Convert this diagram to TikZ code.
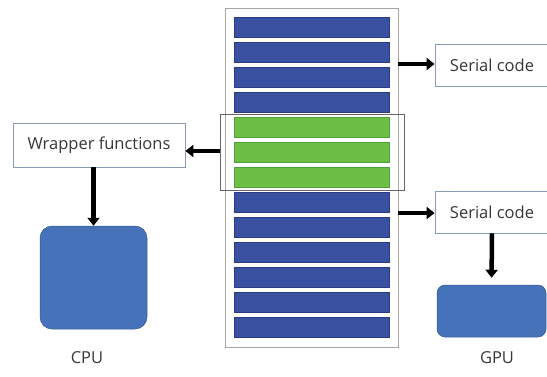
\documentclass[tikz,border=0pt]{standalone}
\usepackage{fontspec}
\setmainfont{Open Sans}
\usetikzlibrary{arrows.meta}
\definecolor{barblue}{RGB}{58,80,160}
\definecolor{barblueedge}{RGB}{45,60,130}
\definecolor{bargreen}{RGB}{108,190,69}
\definecolor{bargreenedge}{RGB}{80,160,60}
\definecolor{cpublue}{RGB}{69,114,184}
\definecolor{boxedge}{RGB}{140,155,180}
\definecolor{txt}{RGB}{55,55,55}
\begin{document}
\begin{tikzpicture}[x=1pt,y=-1pt,
  bluebar/.style={fill=barblue,draw=barblueedge,line width=0.6pt},
  greenbar/.style={fill=bargreen,draw=bargreenedge,line width=0.6pt},
  textbox/.style={draw=boxedge,line width=0.8pt,fill=white},
  thickarrow/.style={line width=4.5pt,-{Triangle[length=8pt,width=12pt]}},
  lbl/.style={text=txt,font=\fontsize{16.5}{19}\selectfont}]
\useasboundingbox (0,0) rectangle (547,376);
% outer column
\draw[gray!70,line width=0.8pt] (225,8) rectangle (398,347);
\coordinate (outerTR) at (398,64);
\coordinate (outerBR) at (398,213);
% bars
\foreach \i in {0,1,2,3,7,8,9,10,11,12}{
  \draw[bluebar] (234,{17+25*\i}) rectangle (389,{37+25*\i});
}
\foreach \i in {4,5,6}{
  \draw[greenbar] (234,{17+25*\i}) rectangle (389,{37+25*\i});
}
% green group box
\node[draw=gray!80!black,line width=0.7pt,minimum width=184pt,minimum height=76pt,inner sep=0pt] (grp) at (312,152) {};
\coordinate (grpL) at (220,151);
% wrapper functions
\node[textbox,minimum width=172pt,minimum height=44pt,inner sep=0pt,lbl] (wrap) at (99,145) {Wrapper functions};
% CPU box
\node[fill=cpublue,draw=cpublue!80!black,line width=0.5pt,rounded corners=12pt,minimum width=107pt,minimum height=103pt,inner sep=0pt] (cpu) at (93.5,277.5) {};
\node[lbl] (cpul) at (87,358) {CPU};
% serial code boxes
\node[textbox,minimum width=114pt,minimum height=42pt,inner sep=0pt,lbl] (s1) at (492,65) {Serial code};
\node[textbox,minimum width=114pt,minimum height=42pt,inner sep=0pt,lbl] (s2) at (492,212) {Serial code};
% GPU
\node[fill=cpublue,draw=cpublue!80!black,line width=0.5pt,rounded corners=8pt,minimum width=109pt,minimum height=52pt,inner sep=0pt] (gpu) at (491.5,311) {};
\node[lbl] (gpul) at (497,358) {GPU};
% arrows
\draw[thickarrow] (grpL) -- (wrap.east |- grpL);
\draw[thickarrow] (wrap.south -| cpu.north) -- (cpu.north);
\draw[thickarrow] (outerTR) -- (s1.west |- outerTR);
\draw[thickarrow] (outerBR) -- (s2.west |- outerBR);
\draw[thickarrow,shorten >=7pt] (s2.south) -- (gpu.north);
\end{tikzpicture}
\end{document}
